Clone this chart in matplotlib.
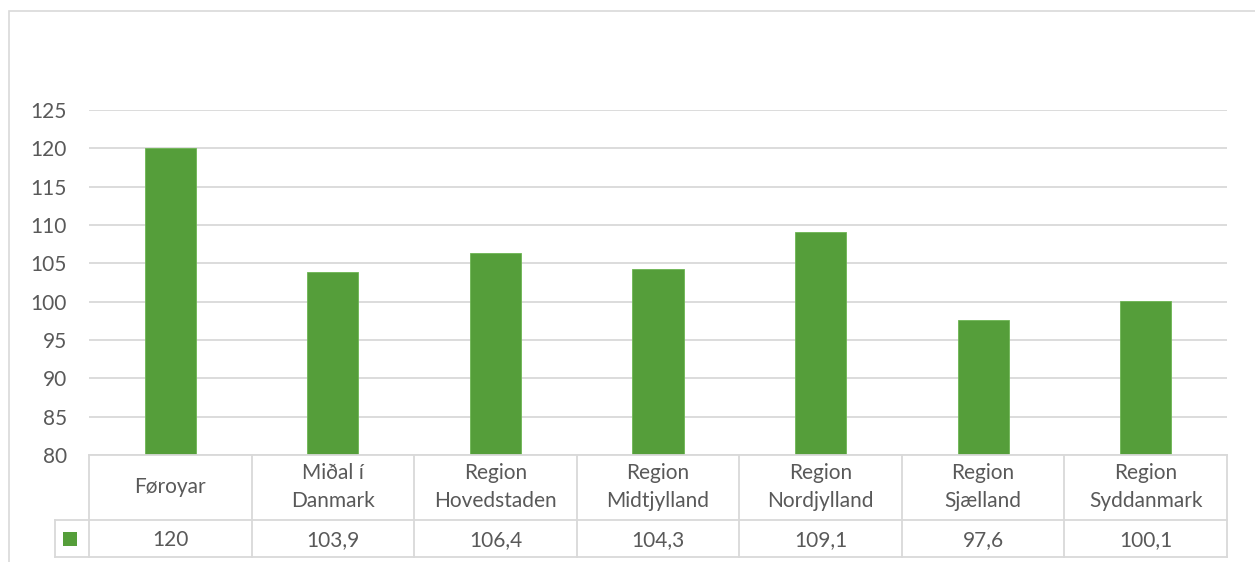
"""Bar chart with Excel-style data table underneath."""

import matplotlib

matplotlib.use("Agg")
import matplotlib.pyplot as plt  # noqa: E402
from matplotlib.patches import Rectangle  # noqa: E402

CATEGORIES = [
    "Føroyar",
    "Miðal í\nDanmark",
    "Region\nHovedstaden",
    "Region\nMidtjylland",
    "Region\nNordjylland",
    "Region\nSjælland",
    "Region\nSyddanmark",
]
VALUES = [120, 103.9, 106.4, 104.3, 109.1, 97.6, 100.1]
VALUE_LABELS = ["120", "103,9", "106,4", "104,3", "109,1", "97,6", "100,1"]
Y_TICKS = [80, 85, 90, 95, 100, 105, 110, 115, 120, 125]

BAR_COLOR = "#559E3A"
GRID_COLOR = "#D9D9D9"
TEXT_COLOR = "#595959"
FONT = ["Lato", "DejaVu Sans"]
FS = 15

W, H = 1255, 562
plt.rcParams["font.family"] = FONT

fig = plt.figure(figsize=(W / 100, H / 100), dpi=100)


def fx(px):
    return px / W


def fy(py):
    return 1 - py / H


# outer chart frame (extends past the image on right/bottom)
fig.patches.append(Rectangle((fx(9), fy(600)), fx(1300), fy(11) - fy(600),
                             transform=fig.transFigure, fill=False,
                             edgecolor=GRID_COLOR, linewidth=1.2))

left, right = 89, 1227
top, base = 110, 455
ax = fig.add_axes([fx(left), fy(base), fx(right) - fx(left), fy(top) - fy(base)])
x = range(len(VALUES))
ax.bar(x, [v - 80 for v in VALUES], bottom=80, width=0.314, color=BAR_COLOR,
       edgecolor="#6DB552", linewidth=0.6, zorder=3)
ax.set_xlim(-0.5, len(VALUES) - 0.5)
ax.set_ylim(80, 125)
ax.set_yticks(Y_TICKS)
ax.set_yticklabels([str(t) for t in Y_TICKS])
ax.set_xticks([])
ax.tick_params(axis="y", length=0, pad=16, labelsize=FS, labelcolor=TEXT_COLOR)
for s in ax.spines.values():
    s.set_visible(False)
ax.yaxis.grid(True, color=GRID_COLOR, linewidth=1.3)
ax.set_axisbelow(True)

# data table beneath the plot, sharing the category x scale
t_top, t_mid, t_bot = 455, 519.5, 557
tax = fig.add_axes([fx(left), fy(t_bot), fx(right) - fx(left), fy(t_top) - fy(t_bot)])
tax.set_xlim(-0.5, len(VALUES) - 0.5)
tax.set_ylim(t_bot, t_top)
tax.axis("off")

unit = (right - left) / len(VALUES)
leg_left = -0.5 - (left - 54.5) / unit
lw = 1.3
tax.plot([-0.5, len(VALUES) - 0.5], [t_top, t_top], color=GRID_COLOR, lw=lw, clip_on=False)
tax.plot([leg_left, len(VALUES) - 0.5], [t_mid, t_mid], color=GRID_COLOR, lw=lw, clip_on=False)
tax.plot([leg_left, len(VALUES) - 0.5], [t_bot, t_bot], color=GRID_COLOR, lw=lw, clip_on=False)
tax.plot([leg_left, leg_left], [t_mid, t_bot], color=GRID_COLOR, lw=lw, clip_on=False)
for i in range(len(VALUES) + 1):
    tax.plot([i - 0.5, i - 0.5], [t_top, t_bot], color=GRID_COLOR, lw=lw, clip_on=False)

for i, (cat, lab) in enumerate(zip(CATEGORIES, VALUE_LABELS)):
    tax.text(i, (t_top + t_mid) / 2, cat, ha="center", va="center",
             fontsize=FS, color=TEXT_COLOR, linespacing=1.5)
    tax.text(i, (t_mid + t_bot) / 2 + 2, lab, ha="center", va="center",
             fontsize=FS, color=TEXT_COLOR)

# legend key in the value row
sq = 14 / unit
tax.add_patch(Rectangle((-0.5 - (left - 63) / unit, 546), sq, -14,
                        facecolor=BAR_COLOR, edgecolor="none", clip_on=False))

fig.savefig("out.png", dpi=100, facecolor="white")
